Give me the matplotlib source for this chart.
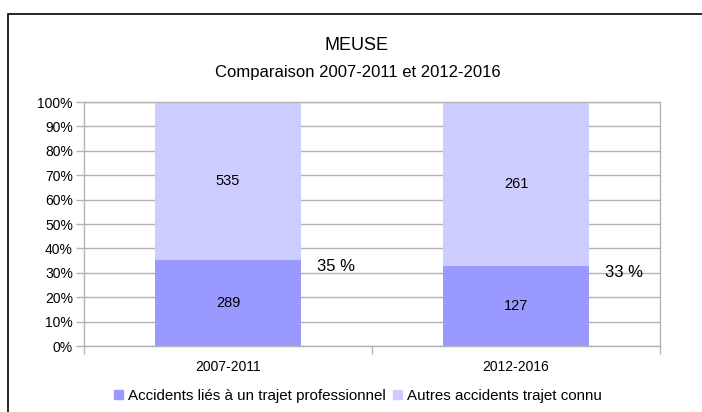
import matplotlib
matplotlib.use('Agg')
import matplotlib.pyplot as plt
from matplotlib.patches import Rectangle
import numpy as np

plt.rcParams['font.family'] = ['Liberation Sans', 'DejaVu Sans']

# données
periodes = ['2007-2011', '2012-2016']
trajet_pro = [289, 127]
autres = [535, 261]
etiquettes_pct = ['35 %', '33 %']
titre = 'MEUSE'
sous_titre = 'Comparaison 2007-2011 et 2012-2016'
serie_noms = ['Accidents liés à un trajet professionnel', 'Autres accidents trajet connu']

couleur_pro = '#9999ff'
couleur_autres = '#ccccff'
gris = '#b3b3b3'

W, H = 702, 412
fig = plt.figure(figsize=(W / 100, H / 100), dpi=100)
ax = fig.add_axes([84 / W, 1 - 346 / H, (660 - 84) / W, (346 - 102) / H])

pro = np.array(trajet_pro, dtype=float)
aut = np.array(autres, dtype=float)
tot = pro + aut
p_pro = pro / tot * 100
p_aut = aut / tot * 100
x = np.arange(len(periodes))

ax.bar(x, p_pro, width=0.506, color=couleur_pro, zorder=2)
ax.bar(x, p_aut, bottom=p_pro, width=0.506, color=couleur_autres, zorder=2)

for i in range(len(x)):
    ax.text(x[i], p_pro[i] / 2, str(trajet_pro[i]), ha='center', va='center', fontsize=10.5, zorder=3)
    ax.text(x[i], p_pro[i] + p_aut[i] / 2, str(autres[i]), ha='center', va='center', fontsize=10.5, zorder=3)
    ax.text(x[i] + 0.31, p_pro[i] - 2.6, etiquettes_pct[i], ha='left', va='center', fontsize=12, zorder=3)

ax.set_xlim(-0.5, len(x) - 0.5)
ax.set_ylim(0, 100)
ax.set_yticks(np.arange(0, 101, 10))
ax.set_yticklabels([f'{v}%' for v in range(0, 101, 10)], fontsize=10)
ax.yaxis.grid(True, color=gris, linewidth=1, zorder=0)
ax.set_axisbelow(True)

# graduations x aux limites des catégories
ax.set_xticks(np.arange(-0.5, len(x), 1.0))
ax.set_xticklabels([])
ax.set_xticks(x, minor=True)
ax.set_xticklabels(periodes, minor=True, fontsize=10)
ax.tick_params(axis='x', which='minor', length=0, pad=10)
ax.tick_params(axis='x', which='major', length=6, color=gris, width=1)
ax.tick_params(axis='y', length=6, color=gris, width=1, pad=2)

for s in ax.spines.values():
    s.set_color(gris)
    s.set_linewidth(1)

fig.text(357 / W, 1 - 46 / H, titre, ha='center', va='center', fontsize=13)
fig.text(358 / W, 1 - 72 / H, sous_titre, ha='center', va='center', fontsize=12)

handles = [Rectangle((0, 0), 1, 1, color=couleur_pro), Rectangle((0, 0), 1, 1, color=couleur_autres)]
fig.legend(handles, serie_noms, loc='center', bbox_to_anchor=(358 / W, 1 - 396 / H), ncol=2,
           frameon=False, fontsize=10.9, handlelength=0.6, handleheight=0.6,
           handletextpad=0.3, columnspacing=0.5)

# cadre extérieur
fig.add_artist(Rectangle((7.5 / W, -0.1), 1.2, 1.1 - 14 / H, transform=fig.transFigure,
                         fill=False, edgecolor='black', linewidth=1.2))

fig.savefig('out.png', dpi=100)
